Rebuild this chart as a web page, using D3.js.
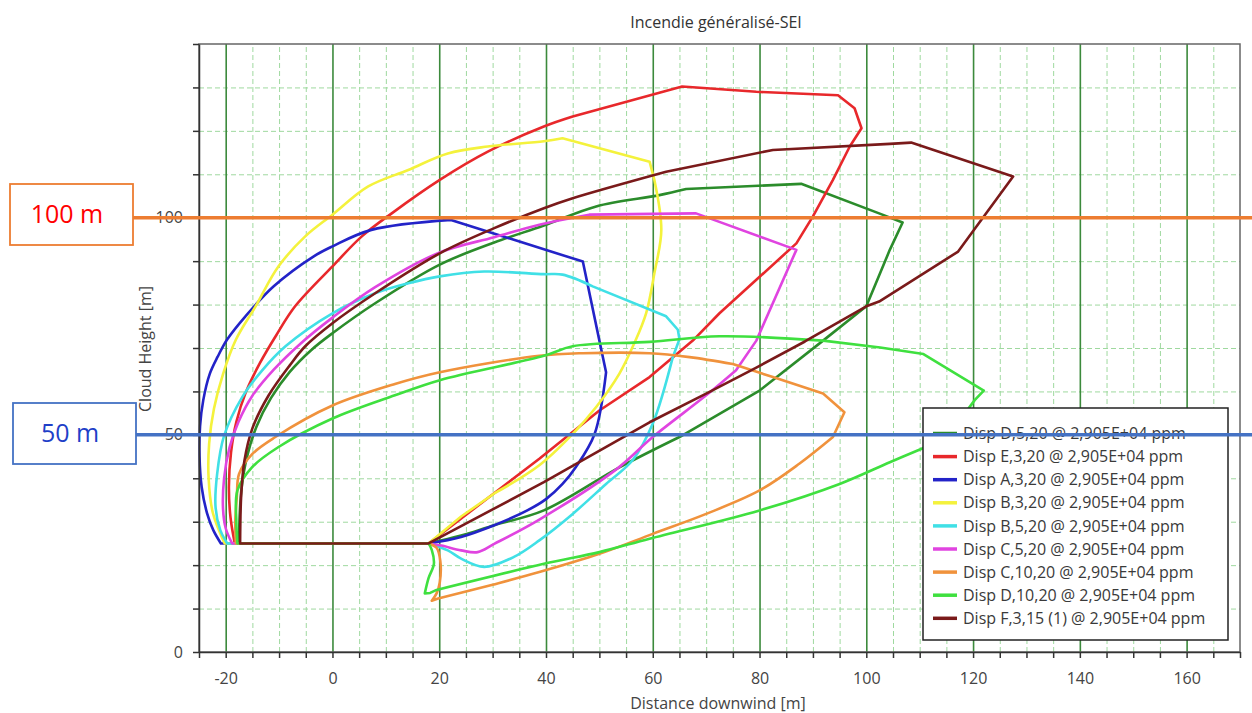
<!DOCTYPE html>
<html>
<head>
<meta charset="utf-8">
<script src="https://d3js.org/d3.v7.min.js"></script>
<style>
  body { margin: 0; background: #fff; }
  svg { display: block; font-family: 'Open Sans', sans-serif; }
  .axis text { fill: #444; font-size: 16px; font-family: 'Open Sans', sans-serif; }
  .axis path, .axis line { stroke: #333; stroke-width: 1.5px; }
  .grid .domain { display: none; }
  .grid-minor line { stroke: #9fd99f; stroke-width: 1px; stroke-dasharray: 5,3; }
  .grid-major line { stroke: #3c8a3c; stroke-width: 1.6px; }
  .curve { fill: none; stroke-width: 2.6px; stroke-linejoin: round; }
</style>
</head>
<body>
<div id="chart"></div>
<script>
  // legend labels, in drawing order
  var seriesNames = [
    "Disp D,5,20 @ 2,905E+04 ppm",
    "Disp E,3,20 @ 2,905E+04 ppm",
    "Disp A,3,20 @ 2,905E+04 ppm",
    "Disp B,3,20 @ 2,905E+04 ppm",
    "Disp B,5,20 @ 2,905E+04 ppm",
    "Disp C,5,20 @ 2,905E+04 ppm",
    "Disp C,10,20 @ 2,905E+04 ppm",
    "Disp D,10,20 @ 2,905E+04 ppm",
    "Disp F,3,15 (1) @ 2,905E+04 ppm"
  ];
  var seriesColors = ["#2b8c2b", "#e8282b", "#2323c8", "#f4f23c", "#40e0e6", "#e044e0", "#f0923c", "#3fe03f", "#7a1a1a"];

  // cloud contours [distance downwind, height]
  var dispD5 = [[18,25],[24.1,26.8],[30.3,29.2],[39.6,32.6],[53.75,42.5],[65,49.5],[80,60.2],[91.9,71.7],[100,79.6],[104.4,92.6],[106.8,98.9],[102.4,101],[87.8,107.8],[66.25,106.6],[61.25,105.2],[49.4,102.6],[39.6,98.2],[30.3,94.3],[20.1,89.2],[8,80.3],[0,73.4],[-4,69.5],[-8,64.5],[-11.5,58.5],[-14.2,52],[-16,45],[-17,38],[-17.4,31],[-17.5,25]];
  var dispE3 = [[18,25],[38.75,44.5],[50,55.6],[59.4,63.3],[67.5,71.7],[72.5,78],[79.4,85.7],[86.9,94.1],[90,100.3],[93.75,108.7],[96.9,116.4],[99.1,120.6],[97.8,125.2],[94.7,128.2],[79.4,129],[65.5,130.2],[45,123.3],[39.6,121],[29.1,115.2],[20.1,108.7],[11.1,101],[5.5,95.7],[0,88.8],[-7,79.6],[-10.5,73],[-13.6,66.5],[-16.2,59.9],[-18,53],[-19,46],[-19.4,38],[-19.1,31],[-18.3,25]];
  var dispA3 = [[18,25],[24.1,26.5],[30.3,29.2],[36.5,32.6],[40,35.2],[43.1,38.7],[45.6,42.6],[49.1,50.2],[51.25,64.4],[50,71.7],[46.9,89.9],[22.2,99.5],[7.3,97.2],[0,93.4],[-3.5,91.1],[-11,84.2],[-16.3,77.3],[-19.7,72],[-21.5,68],[-23,64],[-24.2,58],[-24.8,52],[-24.9,45],[-24.5,38],[-23.5,32],[-22.3,28],[-20.9,25]];
  var dispB3 = [[18,25],[24.1,31.2],[30.3,36.5],[38.75,43],[45,50.2],[49.4,56.4],[53.75,64.1],[56.5,71],[58.75,78],[60.3,87.2],[61.6,97.2],[60.3,108.7],[59.4,112.9],[43.1,118.3],[39.6,117.6],[29.1,116.4],[21.6,114.8],[14.2,111],[6.7,107.2],[0,100.7],[-5.1,95.7],[-10.1,88.8],[-14.4,79.6],[-18.1,71.9],[-20.5,64],[-22.2,56],[-23.1,48],[-23.2,40],[-22.4,32],[-20.2,25]];
  var dispB5 = [[18,25],[21.6,23.4],[24.1,21.5],[28.4,19.6],[34,21.9],[38.75,25.7],[45,31.8],[51.25,38.7],[56.25,44.2],[60,52.6],[63.75,67.9],[65,72],[64.7,74.2],[62.5,77.3],[48.75,84.2],[43.1,86.9],[39.6,87],[28.4,87.6],[20.1,86.5],[14.2,84.9],[8,82.6],[0,78],[-8.8,70.4],[-13.2,64.8],[-16.9,58.7],[-20.3,49.8],[-21.6,41],[-21.9,33.4],[-21,28],[-19.7,25]];
  var dispC5 = [[18,25],[20.4,24.5],[24.1,23.4],[27.2,23],[30.3,24.9],[38.75,30.5],[53.1,42],[60,49.5],[70,59.1],[75.6,64.9],[79.4,71.7],[86.9,92.6],[68.1,101],[48.1,100.7],[38.75,98.4],[30.3,95.5],[20.1,92],[8,84],[0,77],[-6,71],[-11,65],[-15,59],[-17.6,53],[-19.3,47],[-20.3,40],[-20.5,33],[-20,28.5],[-18.8,25]];
  var dispC10 = [[18,25],[19.5,24],[20.2,21],[20.1,16],[19.5,13.5],[18.6,11.8],[19.8,12.3],[30,15.5],[38.75,18.4],[50,22.6],[60,27.2],[70,31.8],[80,37.2],[87.5,43.4],[93.75,49.5],[95.9,55.2],[91.9,59.5],[82.5,63.3],[75,66.3],[66.9,67.9],[59.4,68.8],[46.9,68.8],[38.75,68.2],[20.1,64.4],[11.7,61.7],[-0.1,56.7],[-10.7,49.5],[-15,45.6],[-17.5,41],[-17.9,36],[-18.2,30],[-18.1,25]];
  var dispD10 = [[18,25],[18.6,23.5],[19,20.3],[18,17],[17.3,13.5],[18.3,13.6],[19.5,14.3],[39.6,20.3],[50,23],[59.4,26.1],[80,32.6],[95,38.7],[104.4,43.7],[110.6,46.9],[117,52.5],[120.3,58],[122,60.2],[110.7,68.6],[102.6,70.1],[91.9,71.7],[72.5,72.7],[59.4,71.4],[45,70.4],[39.6,68.2],[20.1,62.6],[11.7,59.1],[-0.1,53.7],[-10.1,47.2],[-15,42.6],[-17.8,37.2],[-18,30],[-17.8,25]];
  var dispF3 = [[18,25],[39.6,39.1],[59.4,52.9],[70,59.5],[79.4,65.5],[88.5,71.5],[100,79.6],[102.4,80.7],[117.2,92.2],[127.5,109.5],[108.4,117.3],[104.4,117],[82.5,115.6],[62.5,110.6],[45,104.5],[39.6,102.2],[30.3,97.6],[20.1,91.8],[8,82.6],[0,75.7],[-5.1,70.4],[-8,66],[-12,59],[-15,51.5],[-16.5,44],[-17.1,36],[-17.3,25]];
  var seriesPoints = [dispD5, dispE3, dispA3, dispB3, dispB5, dispC5, dispC10, dispD10, dispF3];
  // index ranges of each contour that are drawn rounded (the rest is polygonal)
  var roundRanges = [
    [[0, 5], [13, 28]],
    [[16, 31]],
    [[0, 8], [11, 26]],
    [[2, 11], [13, 29]],
    [[0, 10], [14, 29]],
    [[0, 9], [13, 27]],
    [[0, 5], [6, 14], [18, 31]],
    [[0, 4], [6, 13], [19, 31]],
    [[13, 26]]
  ];

  // axis ticks and labels
  var xTicks = d3.range(-25, 171, 5);
  var xLabels = [-20, 0, 20, 40, 60, 80, 100, 120, 140, 160];
  var yTicks = d3.range(0, 141, 10);
  var yLabels = [0, 50, 100];
  var markLevels = [100, 50];
  var markTexts = ["100 m", "50 m"];

  var W = 1252, H = 713;
  var svg = d3.select("#chart").append("svg").attr("width", W).attr("height", H);

  var x = d3.scaleLinear().domain([-25, 170]).range([199, 1240]);
  var y = d3.scaleLinear().domain([0, 140]).range([652, 44]);

  // grid
  svg.append("g").attr("class", "grid grid-minor")
    .attr("transform", "translate(0," + y(0) + ")")
    .call(d3.axisBottom(x).tickValues(xTicks.filter(d => d % 20 !== 0 && d > -25 && d < 170))
      .tickSize(-(y(0) - y(140))).tickFormat(""));
  svg.append("g").attr("class", "grid grid-minor")
    .attr("transform", "translate(" + x(-25) + ",0)")
    .call(d3.axisLeft(y).tickValues(yTicks.filter(d => d > 0 && d < 140))
      .tickSize(-(x(170) - x(-25))).tickFormat(""));
  svg.append("g").attr("class", "grid grid-major")
    .attr("transform", "translate(0," + y(0) + ")")
    .call(d3.axisBottom(x).tickValues(xLabels).tickSize(-(y(0) - y(140))).tickFormat(""));

  // curves
  var straight = d3.line().x(d => x(d[0])).y(d => y(d[1]));
  var rounded = d3.line().x(d => x(d[0])).y(d => y(d[1])).curve(d3.curveCatmullRom.alpha(0.5));

  function contour(pts, ranges) {
    var path = "", i = 0;
    function add(seg, gen) {
      var s = gen(seg);
      path += path ? "L" + s.slice(1) : s;
    }
    ranges.forEach(function (r) {
      if (r[0] > i) add(pts.slice(i, r[0] + 1), straight);
      add(pts.slice(r[0], r[1] + 1), rounded);
      i = r[1];
    });
    if (i < pts.length - 1) add(pts.slice(i), straight);
    return path + "Z";
  }

  svg.append("g").selectAll("path")
    .data(seriesPoints)
    .enter().append("path")
    .attr("class", "curve")
    .attr("d", (d, i) => contour(d, roundRanges[i]))
    .style("stroke", (d, i) => seriesColors[i]);

  // frame
  svg.append("rect")
    .attr("x", x(-25)).attr("y", y(140))
    .attr("width", x(170) - x(-25)).attr("height", y(0) - y(140))
    .style("fill", "none").style("stroke", "#666").style("stroke-width", 1.5);

  // axes
  svg.append("g").attr("class", "axis")
    .attr("transform", "translate(0," + y(0) + ")")
    .call(d3.axisBottom(x).tickValues(xTicks).tickSize(6).tickPadding(15).tickSizeOuter(0)
      .tickFormat(d => xLabels.indexOf(d) >= 0 ? d : ""));
  svg.append("g").attr("class", "axis")
    .attr("transform", "translate(" + x(-25) + ",0)")
    .call(d3.axisLeft(y).tickValues(yTicks).tickSize(6).tickPadding(10).tickSizeOuter(0)
      .tickFormat(d => yLabels.indexOf(d) >= 0 ? d : ""));

  // titles
  svg.append("text").attr("x", 716).attr("y", 28)
    .style("text-anchor", "middle").style("font-size", "16px").style("fill", "#333")
    .text("Incendie généralisé-SEI");
  svg.append("text").attr("x", 718).attr("y", 709)
    .style("text-anchor", "middle").style("font-size", "16px").style("fill", "#444")
    .text("Distance downwind [m]");
  svg.append("text").attr("transform", "translate(151,349) rotate(-90)")
    .style("text-anchor", "middle").style("font-size", "16px").style("fill", "#444")
    .text("Cloud Height [m]");

  // legend
  var legend = svg.append("g").attr("transform", "translate(923,408)");
  legend.append("rect").attr("width", 305).attr("height", 232)
    .style("fill", "#fff").style("stroke", "#222").style("stroke-width", 1.5);
  var rows = legend.selectAll(".row").data(seriesNames).enter().append("g")
    .attr("transform", (d, i) => "translate(0," + (25.5 + i * 23.1) + ")");
  rows.append("line").attr("x1", 10).attr("x2", 34)
    .style("stroke", (d, i) => seriesColors[i]).style("stroke-width", 3.5);
  rows.append("text").attr("x", 40).attr("dy", "0.35em")
    .style("font-size", "16px").style("fill", "#3a3a3a")
    .text(d => d);

  // annotation lines and boxes
  var boxes = [{x: 10, y: 184, stroke: "#ed7d31", color: "#ff0000"}, {x: 13, y: 403, stroke: "#4472c4", color: "#1f3fc8"}];
  markLevels.forEach(function (lvl, i) {
    var b = boxes[i];
    svg.append("line")
      .attr("x1", b.x + 123).attr("x2", W)
      .attr("y1", y(lvl)).attr("y2", y(lvl))
      .style("stroke", b.stroke).style("stroke-width", 3.5);
    svg.append("rect").attr("x", b.x).attr("y", b.y).attr("width", 123).attr("height", 61)
      .style("fill", "#fff").style("stroke", b.stroke).style("stroke-width", 1.8);
    svg.append("text").attr("x", b.x + 57).attr("y", b.y + 39)
      .style("text-anchor", "middle").style("font-size", "25px").style("fill", b.color)
      .text(markTexts[i]);
  });
</script>
</body>
</html>
